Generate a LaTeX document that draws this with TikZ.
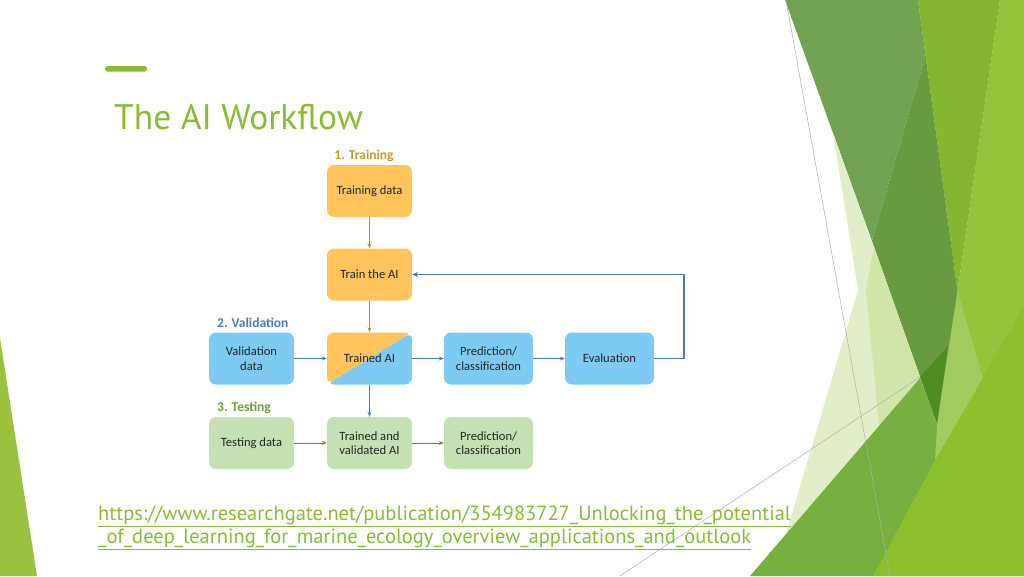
\documentclass[tikz,border=0pt]{standalone}
\usepackage{fontspec}
\setmainfont{Carlito}
\newfontfamily\ttlfont{PT Sans}
\usetikzlibrary{arrows.meta}
\definecolor{ttl}{RGB}{137,188,52}
\definecolor{boxor}{RGB}{255,196,92}
\definecolor{boxbl}{RGB}{125,203,243}
\definecolor{boxgr}{RGB}{197,224,180}
\definecolor{argold}{RGB}{184,146,40}
\definecolor{arblue}{RGB}{72,122,196}
\definecolor{argreen}{RGB}{92,140,58}
\definecolor{lbgold}{RGB}{196,154,44}
\definecolor{lbblue}{RGB}{74,126,192}
\definecolor{lbgreen}{RGB}{111,160,66}
\definecolor{txt}{RGB}{38,38,38}
\definecolor{bandA}{RGB}{114,161,82}
\definecolor{bandB}{RGB}{106,154,64}
\definecolor{darkest}{RGB}{78,141,35}
\definecolor{limeMid}{RGB}{133,182,47}
\definecolor{limeBright}{RGB}{148,196,60}
\definecolor{limeLow}{RGB}{141,192,47}
\definecolor{paleStrip}{RGB}{160,203,94}
\definecolor{paleA}{RGB}{226,238,202}
\definecolor{paleB}{RGB}{210,229,168}
\definecolor{botGreen}{RGB}{118,176,65}
\definecolor{leftLime}{RGB}{155,194,63}
\definecolor{hairgray}{RGB}{175,175,175}
\tikzset{
  box/.style={rounded corners=7pt, minimum height=52pt, minimum width=85pt,
    align=center, text=txt, font=\fontsize{12.6}{14.5}\selectfont, inner sep=2pt},
  orbox/.style={box, fill=boxor},
  blbox/.style={box, fill=boxbl},
  grbox/.style={box, fill=boxgr},
  lbl/.style={font=\bfseries\fontsize{13.5}{15}\selectfont, inner sep=0pt},
  goldar/.style={draw=argold, line width=1pt, -{Stealth[length=5pt,width=4pt]}},
  bluear/.style={draw=arblue, line width=1pt, -{Stealth[length=5pt,width=4pt]}},
  greenar/.style={draw=argreen, line width=1pt, -{Stealth[length=5pt,width=4pt]}},
  fb/.style={draw=arblue, line width=1.4pt, -{Stealth[length=6pt,width=5pt]}},
  hair/.style={draw=hairgray, line width=0.5pt},
}
\begin{document}
\begin{tikzpicture}[x=1pt,y=-1pt]
\useasboundingbox (0,0) rectangle (1024,576);
% background decoration
\fill[leftLime] (0,338) -- (37,576) -- (0,576) -- cycle;
\fill[limeBright] (1000,0) -- (1024,0) -- (1024,576) -- (873,576) -- (937,423) -- (957.5,291) -- cycle;
\fill[limeLow] (1024,306) -- (1024,576) -- (873,576) -- (935,460) -- cycle;
\fill[limeMid] (918,0) -- (1000,0) -- (957.5,291) -- cycle;
\fill[paleStrip] (957.5,291) -- (983,378) -- (935,460) -- (937,423) -- cycle;
\fill[bandA] (785,0) -- (918,0) -- (925.5,55) -- (872,241) -- cycle;
\fill[bandB] (872,241) -- (925.5,55) -- (957.5,291) -- (937,423) -- (920,377) -- cycle;
\fill[darkest] (920,377) -- (948,346) -- (937,424) -- cycle;
\fill[paleA] (833,133) -- (920,377) -- (786,534) -- (858,290) -- cycle;
\fill[paleB] (874,247) -- (920,377) -- (879,426) -- (866,290) -- cycle;
\fill[botGreen] (750,576) -- (920,378) -- (937,424) -- (935,460) -- (873,576) -- cycle;
\draw[hair] (786,0) -- (890,576);
\draw[hair] (620,576) -- (920,377);
% title
\fill[ttl, rounded corners=2.5pt] (105,66) rectangle (147,71.5);
\node[anchor=base west, inner sep=0pt, text=ttl, font=\ttlfont\fontsize{35.5}{38}\selectfont] (title) at (114,129) {The AI Workflow};
% labels
\node[lbl, text=lbgold] (l1) at (364,155.5) {1. Training};
\node[lbl, text=lbblue, anchor=west] (l2) at (217,322.5) {2. Validation};
\node[lbl, text=lbgreen, anchor=west] (l3) at (217,408) {3. Testing};
% boxes
\node[orbox] (td) at (369.5,191) {Training data};
\node[orbox] (tta) at (369.5,274.5) {Train the AI};
\node[blbox] (vd) at (251.5,358.5) {Validation\\data};
\node[box, path picture={
  \fill[boxor] (path picture bounding box.north west) -- (path picture bounding box.north east) -- (path picture bounding box.south west) -- cycle;
  \fill[boxbl] (path picture bounding box.north east) -- (path picture bounding box.south east) -- (path picture bounding box.south west) -- cycle;}] (tai) at (369.5,358.5) {Trained AI};
\node[blbox, minimum width=89pt] (pc1) at (488.5,358.5) {Prediction/\\classification};
\node[blbox, minimum width=89pt] (ev) at (609.5,358.5) {Evaluation};
\node[grbox] (ted) at (251.5,443) {Testing data};
\node[grbox] (tva) at (369.5,443) {Trained and\\validated AI};
\node[grbox, minimum width=89pt] (pc2) at (488.5,443) {Prediction/\\classification};
% connectors
\draw[goldar] (td) -- (tta);
\draw[goldar] (tta) -- (tai);
\draw[bluear] (vd) -- (tai);
\draw[bluear] (tai) -- (pc1);
\draw[bluear] (pc1) -- (ev);
\draw[bluear] (tai) -- (tva);
\draw[greenar] (ted) -- (tva);
\draw[greenar] (tva) -- (pc2);
\coordinate (fbx) at (684,0);
\draw[fb] (ev.east) -- (ev.east -| fbx) -- (tta.east -| fbx) -- (tta.east);
% url
\node[anchor=base west, inner sep=0pt, text=ttl, font=\ttlfont\fontsize{20.5}{22}\selectfont] (url1) at (98,520) {\underline{https://www.researchgate.net/publication/354983727\_Unlocking\_the\_potential}};
\node[anchor=base west, inner sep=0pt, text=ttl, font=\ttlfont\fontsize{20.5}{22}\selectfont] (url2) at (98,543) {\underline{\_of\_deep\_learning\_for\_marine\_ecology\_overview\_applications\_and\_outlook}};
\end{tikzpicture}
\end{document}
